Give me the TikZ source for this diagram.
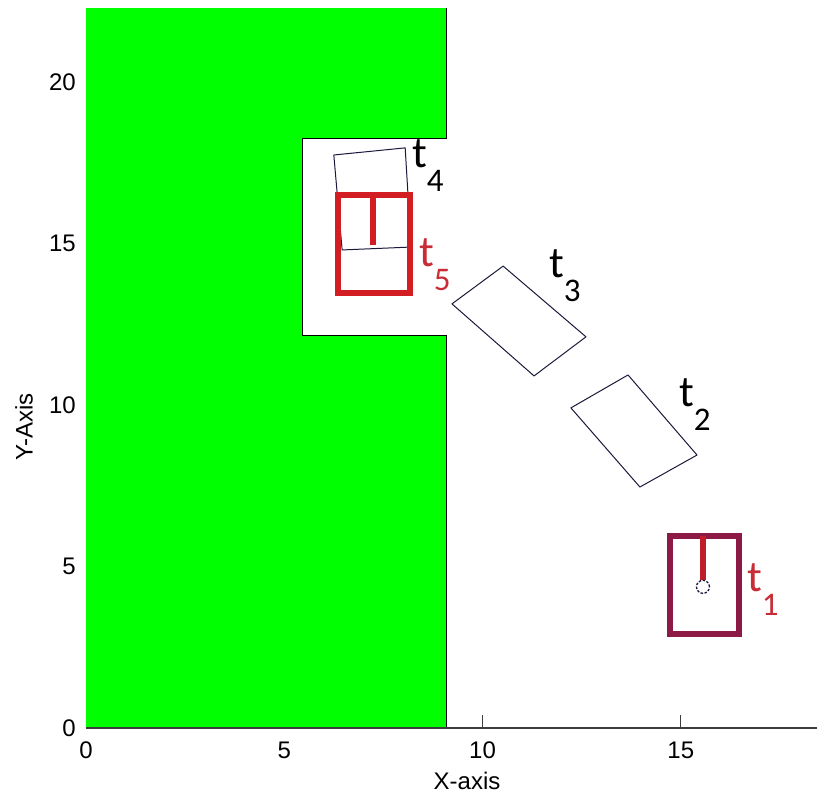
\documentclass[tikz,border=0pt]{standalone}
\usepackage{fontspec}
\setmainfont{Liberation Sans}
\newfontfamily\calib{Carlito}
\usepackage{tikz}
\usetikzlibrary{calc}
\definecolor{obsgreen}{RGB}{0,255,0}
\definecolor{axgray}{RGB}{60,60,60}
\definecolor{carred}{RGB}{210,30,35}
\definecolor{carmaroon}{RGB}{140,25,70}
\definecolor{carline}{RGB}{190,30,40}
\definecolor{pathnavy}{RGB}{25,25,60}
\definecolor{lblred}{RGB}{200,45,55}
\newcommand{\tlab}[1]{t\raisebox{-24pt}{\fontsize{33}{33}\selectfont #1}}

\begin{document}
\begin{tikzpicture}[x=39.65pt,y=32.3pt,
    ticklbl/.style={font=\fontsize{24}{24}\selectfont,inner sep=0pt},
    tlbl/.style={font=\calib\fontsize{44}{44}\selectfont,inner sep=0pt,anchor=base west},
    oldcar/.style={pathnavy,line width=1pt,line join=round},
    newcar/.style={line width=6pt}]
    \useasboundingbox (-86pt,-66pt) rectangle (731pt,728pt);
    \foreach \x in {0,5,10,15} \draw[axgray,line width=1pt] (\x,0) --++(0,13pt); %x目盛
    \foreach \y in {0,5,...,20} \draw[axgray,line width=1pt] (0,\y) --++(13pt,0); %y目盛
    \fill[obsgreen] (0,0) --(9.08,0) --(9.08,12.14) --(5.45,12.14) --(5.45,18.24) --(9.08,18.24) --(9.08,22.29) --(0,22.29) --cycle; %障害物
    \draw[black,line width=0.8pt] (9.08,22.29) --(9.08,18.24) --(5.45,18.24) --(5.45,12.14) --(9.08,12.14) --(9.08,0); %障害物の境界
    \draw[axgray,line width=2pt] (0,0) --(731pt,0); %x軸
    \foreach \x in {0,5,10,15} \node[ticklbl,anchor=north,yshift=-14pt] (xl\x) at (\x,0) {\x};
    \foreach \y in {0,5,...,20} \node[ticklbl,anchor=east,xshift=-10pt] (yl\y) at (0,\y) {\y};
    \node[ticklbl] (xlab) at (381pt,-53pt) {X-axis};
    \node[ticklbl,rotate=90] (ylab) at (-62pt,301pt) {Y-Axis};
    \draw[oldcar] (9.23,13.13) --(10.52,14.30) --(12.61,12.11) --(11.30,10.90) --cycle; %t3
    \draw[oldcar] (12.23,9.91) --(13.67,10.93) --(15.41,8.45) --(13.97,7.46) --cycle; %t2
    \draw[oldcar] (6.25,17.74) --(8.05,17.96) --(8.20,14.89) --(6.46,14.80) --cycle; %t4
    \draw[carred,newcar] (6.36,13.47) rectangle (8.17,16.50); %t5
    \draw[carred,line width=6pt] (7.24,16.50) --(7.24,14.95);
    \draw[carmaroon,newcar] (14.73,2.91) rectangle (16.47,5.94); %t1
    \draw[carline,line width=6pt] (15.56,5.94) --(15.56,4.58);
    \draw[pathnavy,line width=1.3pt,dash pattern=on 2.5pt off 1.5pt] (15.56,4.37) circle (6.5pt);
    \node[tlbl] (t4) at (326pt,560pt) {\tlab{4}};
    \node[tlbl,lblred] (t5) at (333pt,461pt) {\tlab{5}};
    \node[tlbl] (t3) at (463pt,450pt) {\tlab{3}};
    \node[tlbl] (t2) at (593pt,321pt) {\tlab{2}};
    \node[tlbl,lblred] (t1) at (661pt,136pt) {\tlab{1}};
\end{tikzpicture}
\end{document}
